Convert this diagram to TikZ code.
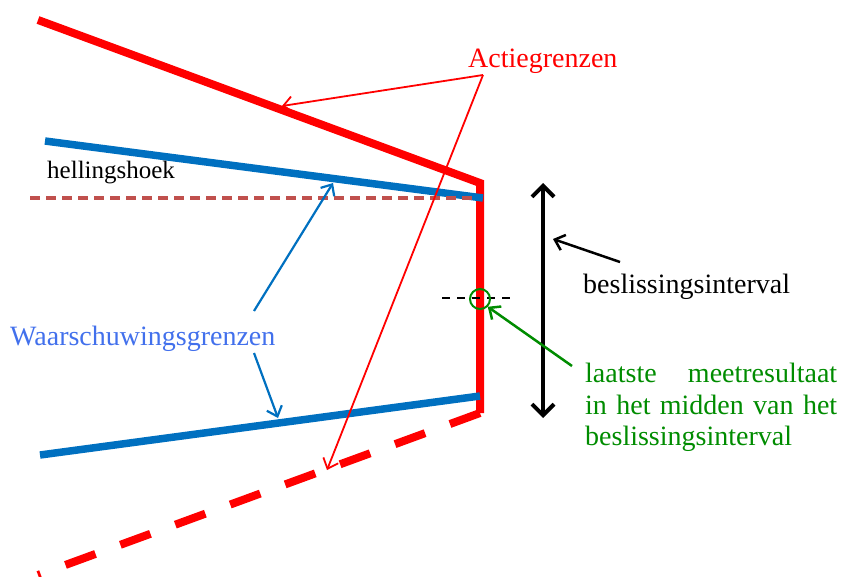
\documentclass[tikz,border=0pt]{standalone}
\usepackage{fontspec}
\setmainfont{Liberation Serif}
\usetikzlibrary{arrows.meta,positioning}

\definecolor{actred}{RGB}{255,0,0}
\definecolor{warnblue}{RGB}{0,112,192}
\definecolor{warntext}{RGB}{66,112,236}
\definecolor{lastgreen}{RGB}{0,140,0}
\definecolor{slopebrown}{RGB}{192,80,77}

\tikzset{
  labeltext/.style={font=\fontsize{28}{31.5}\selectfont, inner sep=0pt},
  pointer/.style={-{Straight Barb[length=9pt,width=16pt]}, line width=1.8pt},
}

\begin{document}
\begin{tikzpicture}[x=1pt,y=-1pt]
    \useasboundingbox (0,0) rectangle (842,576);

    % Actiegrenzen (red)
    \coordinate (topstart) at (38,20);
    \coordinate (topcorner) at (480,183);
    \coordinate (lowcorner) at (480,413);
    \coordinate (lowend) at (38,575);
    \draw[actred, line width=8pt, line join=miter] (topstart) -- (topcorner) -- (lowcorner);
    \draw[actred, line width=8pt, dash pattern=on 32pt off 26.5pt] (lowcorner) -- (lowend);

    % Waarschuwingsgrenzen (blue)
    \coordinate (warnhighstart) at (45,141);
    \coordinate (warnhighend) at (483,198);
    \coordinate (warnlowstart) at (40,455);
    \coordinate (warnlowend) at (480,396);
    \draw[warnblue, line width=7.5pt] (warnhighstart) -- (warnhighend);
    \draw[warnblue, line width=7.5pt] (warnlowstart) -- (warnlowend);

    % horizontal reference line and last result
    \coordinate (levelstart) at (30,198);
    \coordinate (levelend) at (478,198);
    \draw[slopebrown, line width=3.5pt, dash pattern=on 10pt off 6pt] (levelstart) -- (levelend);
    \coordinate (laststart) at (442,298);
    \coordinate (lastend) at (510,298);
    \draw[black, line width=2.5pt, dash pattern=on 8pt off 7pt] (laststart) -- (lastend);
    \node[circle, draw=lastgreen, line width=2pt, minimum size=20pt, inner sep=0pt] (lastpoint) at (480,299) {};

    % beslissingsinterval
    \coordinate (intervaltop) at (543,183);
    \coordinate (intervalbottom) at (543,418);
    \draw[line width=4pt, {Straight Barb[length=11pt,width=22pt]}-{Straight Barb[length=11pt,width=22pt]}] (intervaltop) -- (intervalbottom);

    % labels
    \node[labeltext, text=actred, anchor=base west] (actlabel) at (468,67) {Actiegrenzen};
    \node[labeltext, font=\fontsize{25}{30}\selectfont, anchor=base west] (slopelabel) at (47,178) {hellingshoek};
    \node[labeltext, text=warntext, anchor=base west] (warnlabel) at (10,345) {Waarschuwingsgrenzen};
    \node[labeltext, anchor=base west] (intervallabel) at (583,293) {beslissingsinterval};
    \node[labeltext, text=lastgreen, anchor=north west, align=left] (lastlabel) at (585,363)
        {\makebox[252pt][s]{laatste meetresultaat}\\
         \makebox[252pt][s]{in het midden van het}\\
         beslissingsinterval};

    % pointers
    \coordinate (actfork) at (483,75);
    \coordinate (acthigh) at (282,106);
    \coordinate (actlow) at (327,470);
    \draw[pointer, actred] (actfork) -- (acthigh);
    \draw[pointer, actred] (actfork) -- (actlow);
    \coordinate (warnfrom1) at (254,311);
    \coordinate (warnhigh) at (333,183);
    \coordinate (warnfrom2) at (254,353);
    \coordinate (warnlow) at (278,418);
    \draw[pointer, warnblue, line width=2.2pt] (warnfrom1) -- (warnhigh);
    \draw[pointer, warnblue, line width=2.2pt] (warnfrom2) -- (warnlow);
    \coordinate (intervalfrom) at (620,262);
    \coordinate (intervalto) at (553,239);
    \draw[pointer, black, line width=2.5pt] (intervalfrom) -- (intervalto);
    \coordinate (lastfrom) at (572,366);
    \draw[pointer, lastgreen, line width=2.5pt] (lastfrom) -- (lastpoint.south east);
\end{tikzpicture}
\end{document}
